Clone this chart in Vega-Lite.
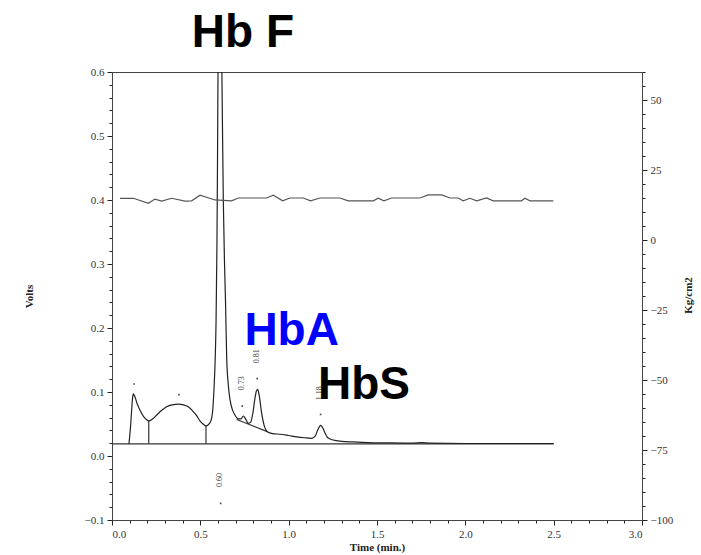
{
  "$schema": "https://vega.github.io/schema/vega-lite/v6.json",
  "width": 530,
  "height": 448,
  "autosize": {"type": "none"},
  "padding": {"left": 112, "top": 72, "right": 59, "bottom": 35},
  "background": "white",
  "config": {
    "view": {"stroke": "#444", "strokeWidth": 1},
    "axis": {
      "labelFont": "Liberation Serif",
      "titleFont": "Liberation Serif",
      "labelFontSize": 11,
      "titleFontSize": 11,
      "labelColor": "#333",
      "titleColor": "#222",
      "domainColor": "#444",
      "tickColor": "#222",
      "tickWidth": 1,
      "grid": false
    }
  },
  "datasets": {
    "trace": [
      {"t": 0.096, "v": 0.019}, {"t": 0.1, "v": 0.03}, {"t": 0.106, "v": 0.05}, {"t": 0.112, "v": 0.075},
      {"t": 0.117, "v": 0.092}, {"t": 0.121, "v": 0.097}, {"t": 0.126, "v": 0.095}, {"t": 0.133, "v": 0.09},
      {"t": 0.142, "v": 0.082}, {"t": 0.158, "v": 0.072}, {"t": 0.178, "v": 0.062}, {"t": 0.195, "v": 0.057},
      {"t": 0.208, "v": 0.055}, {"t": 0.225, "v": 0.057}, {"t": 0.253, "v": 0.064}, {"t": 0.28, "v": 0.071},
      {"t": 0.309, "v": 0.077}, {"t": 0.34, "v": 0.08}, {"t": 0.375, "v": 0.081}, {"t": 0.405, "v": 0.08},
      {"t": 0.432, "v": 0.077}, {"t": 0.455, "v": 0.071}, {"t": 0.479, "v": 0.063}, {"t": 0.5, "v": 0.054},
      {"t": 0.517, "v": 0.0495}, {"t": 0.532, "v": 0.047}, {"t": 0.552, "v": 0.051}, {"t": 0.564, "v": 0.059},
      {"t": 0.572, "v": 0.078}, {"t": 0.577, "v": 0.103}, {"t": 0.584, "v": 0.15}, {"t": 0.589, "v": 0.21},
      {"t": 0.594, "v": 0.33}, {"t": 0.597, "v": 0.45}, {"t": 0.6, "v": 0.6}, {"t": 0.604, "v": 0.75},
      {"t": 0.61, "v": 0.82}, {"t": 0.616, "v": 0.75}, {"t": 0.622, "v": 0.6}, {"t": 0.63, "v": 0.4},
      {"t": 0.637, "v": 0.3}, {"t": 0.643, "v": 0.236}, {"t": 0.649, "v": 0.155}, {"t": 0.658, "v": 0.112},
      {"t": 0.668, "v": 0.088}, {"t": 0.682, "v": 0.072}, {"t": 0.696, "v": 0.064}, {"t": 0.715, "v": 0.058},
      {"t": 0.73, "v": 0.058}, {"t": 0.743, "v": 0.0625}, {"t": 0.756, "v": 0.058}, {"t": 0.771, "v": 0.051},
      {"t": 0.785, "v": 0.053}, {"t": 0.798, "v": 0.068}, {"t": 0.809, "v": 0.09}, {"t": 0.818, "v": 0.102},
      {"t": 0.825, "v": 0.104}, {"t": 0.833, "v": 0.095}, {"t": 0.847, "v": 0.067}, {"t": 0.862, "v": 0.047},
      {"t": 0.879, "v": 0.038}, {"t": 0.91, "v": 0.035}, {"t": 0.951, "v": 0.034}, {"t": 1.0, "v": 0.032},
      {"t": 1.045, "v": 0.03}, {"t": 1.09, "v": 0.0285}, {"t": 1.13, "v": 0.0276}, {"t": 1.15, "v": 0.031},
      {"t": 1.165, "v": 0.041}, {"t": 1.181, "v": 0.048}, {"t": 1.195, "v": 0.043}, {"t": 1.207, "v": 0.035},
      {"t": 1.22, "v": 0.029}, {"t": 1.252, "v": 0.025}, {"t": 1.3, "v": 0.023}, {"t": 1.366, "v": 0.022},
      {"t": 1.45, "v": 0.021}, {"t": 1.55, "v": 0.0205}, {"t": 1.7, "v": 0.02}, {"t": 1.75, "v": 0.021},
      {"t": 1.8, "v": 0.02}, {"t": 2.0, "v": 0.0195}, {"t": 2.2, "v": 0.0195}, {"t": 2.5, "v": 0.0195}
    ],
    "segments": [
      {"t": 0, "v": 0.019, "t2": 2.5, "v2": 0.019},
      {"t": 0.208, "v": 0.019, "t2": 0.208, "v2": 0.055},
      {"t": 0.532, "v": 0.019, "t2": 0.532, "v2": 0.047},
      {"t": 0.706, "v": 0.057, "t2": 0.879, "v2": 0.038}
    ],
    "dots": [
      {"t": 0.125, "v": 0.1125}, {"t": 0.379, "v": 0.096}, {"t": 0.615, "v": -0.074},
      {"t": 0.737, "v": 0.078}, {"t": 0.822, "v": 0.121}, {"t": 1.181, "v": 0.065}
    ],
    "rt": [
      {"t": 0.611, "v": -0.0375, "label": "0.60"},
      {"t": 0.737, "v": 0.1135, "label": "0.73"},
      {"t": 0.819, "v": 0.156, "label": "0.81"},
      {"t": 1.177, "v": 0.098, "label": "1.18"}
    ],
    "names": [
      {"t": 0.741, "v": 0.639, "label": "Hb F"},
      {"t": 1.017, "v": 0.173, "label": "HbA"},
      {"t": 1.426, "v": 0.089, "label": "HbS"}
    ],
    "pressure": [
      {"t": 0.045, "p": 14.9}, {"t": 0.121, "p": 14.9}, {"t": 0.206, "p": 13.1}, {"t": 0.243, "p": 14.6},
      {"t": 0.281, "p": 13.9}, {"t": 0.338, "p": 14.9}, {"t": 0.413, "p": 13.9}, {"t": 0.451, "p": 14.0},
      {"t": 0.498, "p": 16.0}, {"t": 0.583, "p": 14.3}, {"t": 0.677, "p": 14.0}, {"t": 0.715, "p": 15.0},
      {"t": 0.875, "p": 15.0}, {"t": 0.913, "p": 16.0}, {"t": 0.966, "p": 14.0}, {"t": 1.007, "p": 15.0},
      {"t": 1.083, "p": 15.0}, {"t": 1.124, "p": 14.0}, {"t": 1.177, "p": 15.0}, {"t": 1.29, "p": 15.0},
      {"t": 1.337, "p": 14.0}, {"t": 1.479, "p": 14.0}, {"t": 1.507, "p": 14.9}, {"t": 1.539, "p": 14.0},
      {"t": 1.583, "p": 15.0}, {"t": 1.743, "p": 15.0}, {"t": 1.79, "p": 16.1}, {"t": 1.866, "p": 16.1},
      {"t": 1.913, "p": 15.0}, {"t": 1.96, "p": 15.0}, {"t": 1.988, "p": 14.0}, {"t": 2.026, "p": 14.9},
      {"t": 2.064, "p": 14.0}, {"t": 2.12, "p": 15.0}, {"t": 2.158, "p": 14.0}, {"t": 2.318, "p": 14.0},
      {"t": 2.337, "p": 14.9}, {"t": 2.366, "p": 14.0}, {"t": 2.498, "p": 14.0}
    ]
  },
  "encoding": {
    "x": {
      "field": "t",
      "type": "quantitative",
      "scale": {"domain": [0, 3], "nice": false, "zero": false},
      "axis": {
        "title": "Time (min.)",
        "titleFontWeight": "bold",
        "values": [0, 0.1, 0.2, 0.3, 0.4, 0.5, 0.6, 0.7, 0.8, 0.9, 1, 1.1, 1.2, 1.3, 1.4, 1.5, 1.6, 1.7, 1.8, 1.9, 2, 2.1, 2.2, 2.3, 2.4, 2.5, 2.6, 2.7, 2.8, 2.9, 3],
        "labelExpr": "abs(datum.value*2 - round(datum.value*2)) < 0.001 ? format(datum.value, '.1f') : ''",
        "labelOverlap": false,
        "tickSize": {"condition": {"test": "abs(datum.value*2 - round(datum.value*2)) < 0.001", "value": 5}, "value": 3},
        "labelPadding": 3,
        "titlePadding": 2
      }
    }
  },
  "layer": [
    {
      "encoding": {
        "y": {
          "field": "v",
          "type": "quantitative",
          "scale": {"domain": [-0.1, 0.6], "nice": false, "zero": false},
          "axis": {
            "title": "Volts",
            "titleFontWeight": "bold",
            "values": [-0.1, -0.08, -0.06, -0.04, -0.02, 0, 0.02, 0.04, 0.06, 0.08, 0.1, 0.12, 0.14, 0.16, 0.18, 0.2, 0.22, 0.24, 0.26, 0.28, 0.3, 0.32, 0.34, 0.36, 0.38, 0.4, 0.42, 0.44, 0.46, 0.48, 0.5, 0.52, 0.54, 0.56, 0.58, 0.6],
            "labelExpr": "abs(datum.value*10 - round(datum.value*10)) < 0.001 ? format(datum.value, '.1f') : ''",
            "labelOverlap": false,
            "tickSize": {"condition": {"test": "abs(datum.value*10 - round(datum.value*10)) < 0.001", "value": 5}, "value": 3},
            "labelPadding": 3,
            "titleX": -83,
            "titleY": 224,
            "titleAngle": 270,
            "titleAlign": "center",
            "titleBaseline": "middle"
          }
        }
      },
      "layer": [
        {
          "data": {"name": "segments"},
          "mark": {"type": "rule", "color": "#333", "strokeWidth": 1.2},
          "encoding": {"x2": {"field": "t2"}, "y2": {"field": "v2"}}
        },
        {
          "data": {"name": "trace"},
          "mark": {"type": "line", "color": "#222", "strokeWidth": 1.2, "clip": true, "interpolate": "monotone"}
        },
        {
          "data": {"name": "dots"},
          "mark": {"type": "square", "size": 3, "color": "#555", "opacity": 1}
        },
        {
          "data": {"name": "rt"},
          "mark": {"type": "text", "angle": 270, "font": "Liberation Serif", "fontSize": 8, "color": "#444", "align": "center", "baseline": "middle"},
          "encoding": {"text": {"field": "label"}}
        },
        {
          "data": {"name": "names"},
          "mark": {"type": "text", "font": "Liberation Sans", "fontWeight": "bold", "fontSize": 46, "align": "center", "baseline": "alphabetic"},
          "encoding": {
            "text": {"field": "label"},
            "color": {"field": "label", "type": "nominal", "scale": {"domain": ["Hb F", "HbA", "HbS"], "range": ["#000000", "#0000ff", "#000000"]}, "legend": null}
          }
        }
      ]
    },
    {
      "data": {"name": "pressure"},
      "mark": {"type": "line", "color": "#555", "strokeWidth": 1.2},
      "encoding": {
        "y": {
          "field": "p",
          "type": "quantitative",
          "scale": {"domain": [-100, 60], "nice": false, "zero": false},
          "axis": {
            "orient": "right",
            "title": "Kg/cm2",
            "titleFontWeight": "bold",
            "values": [-100, -95, -90, -85, -80, -75, -70, -65, -60, -55, -50, -45, -40, -35, -30, -25, -20, -15, -10, -5, 0, 5, 10, 15, 20, 25, 30, 35, 40, 45, 50, 55, 60],
            "labelExpr": "datum.value % 25 == 0 ? format(datum.value, 'd') : ''",
            "labelOverlap": false,
            "tickSize": {"condition": {"test": "datum.value % 25 == 0", "value": 5}, "value": 3},
            "labelPadding": 3,
            "titleX": 46,
            "titleY": 223,
            "titleAngle": 270,
            "titleAlign": "center",
            "titleBaseline": "middle"
          }
        }
      }
    }
  ],
  "resolve": {"scale": {"y": "independent"}}
}
